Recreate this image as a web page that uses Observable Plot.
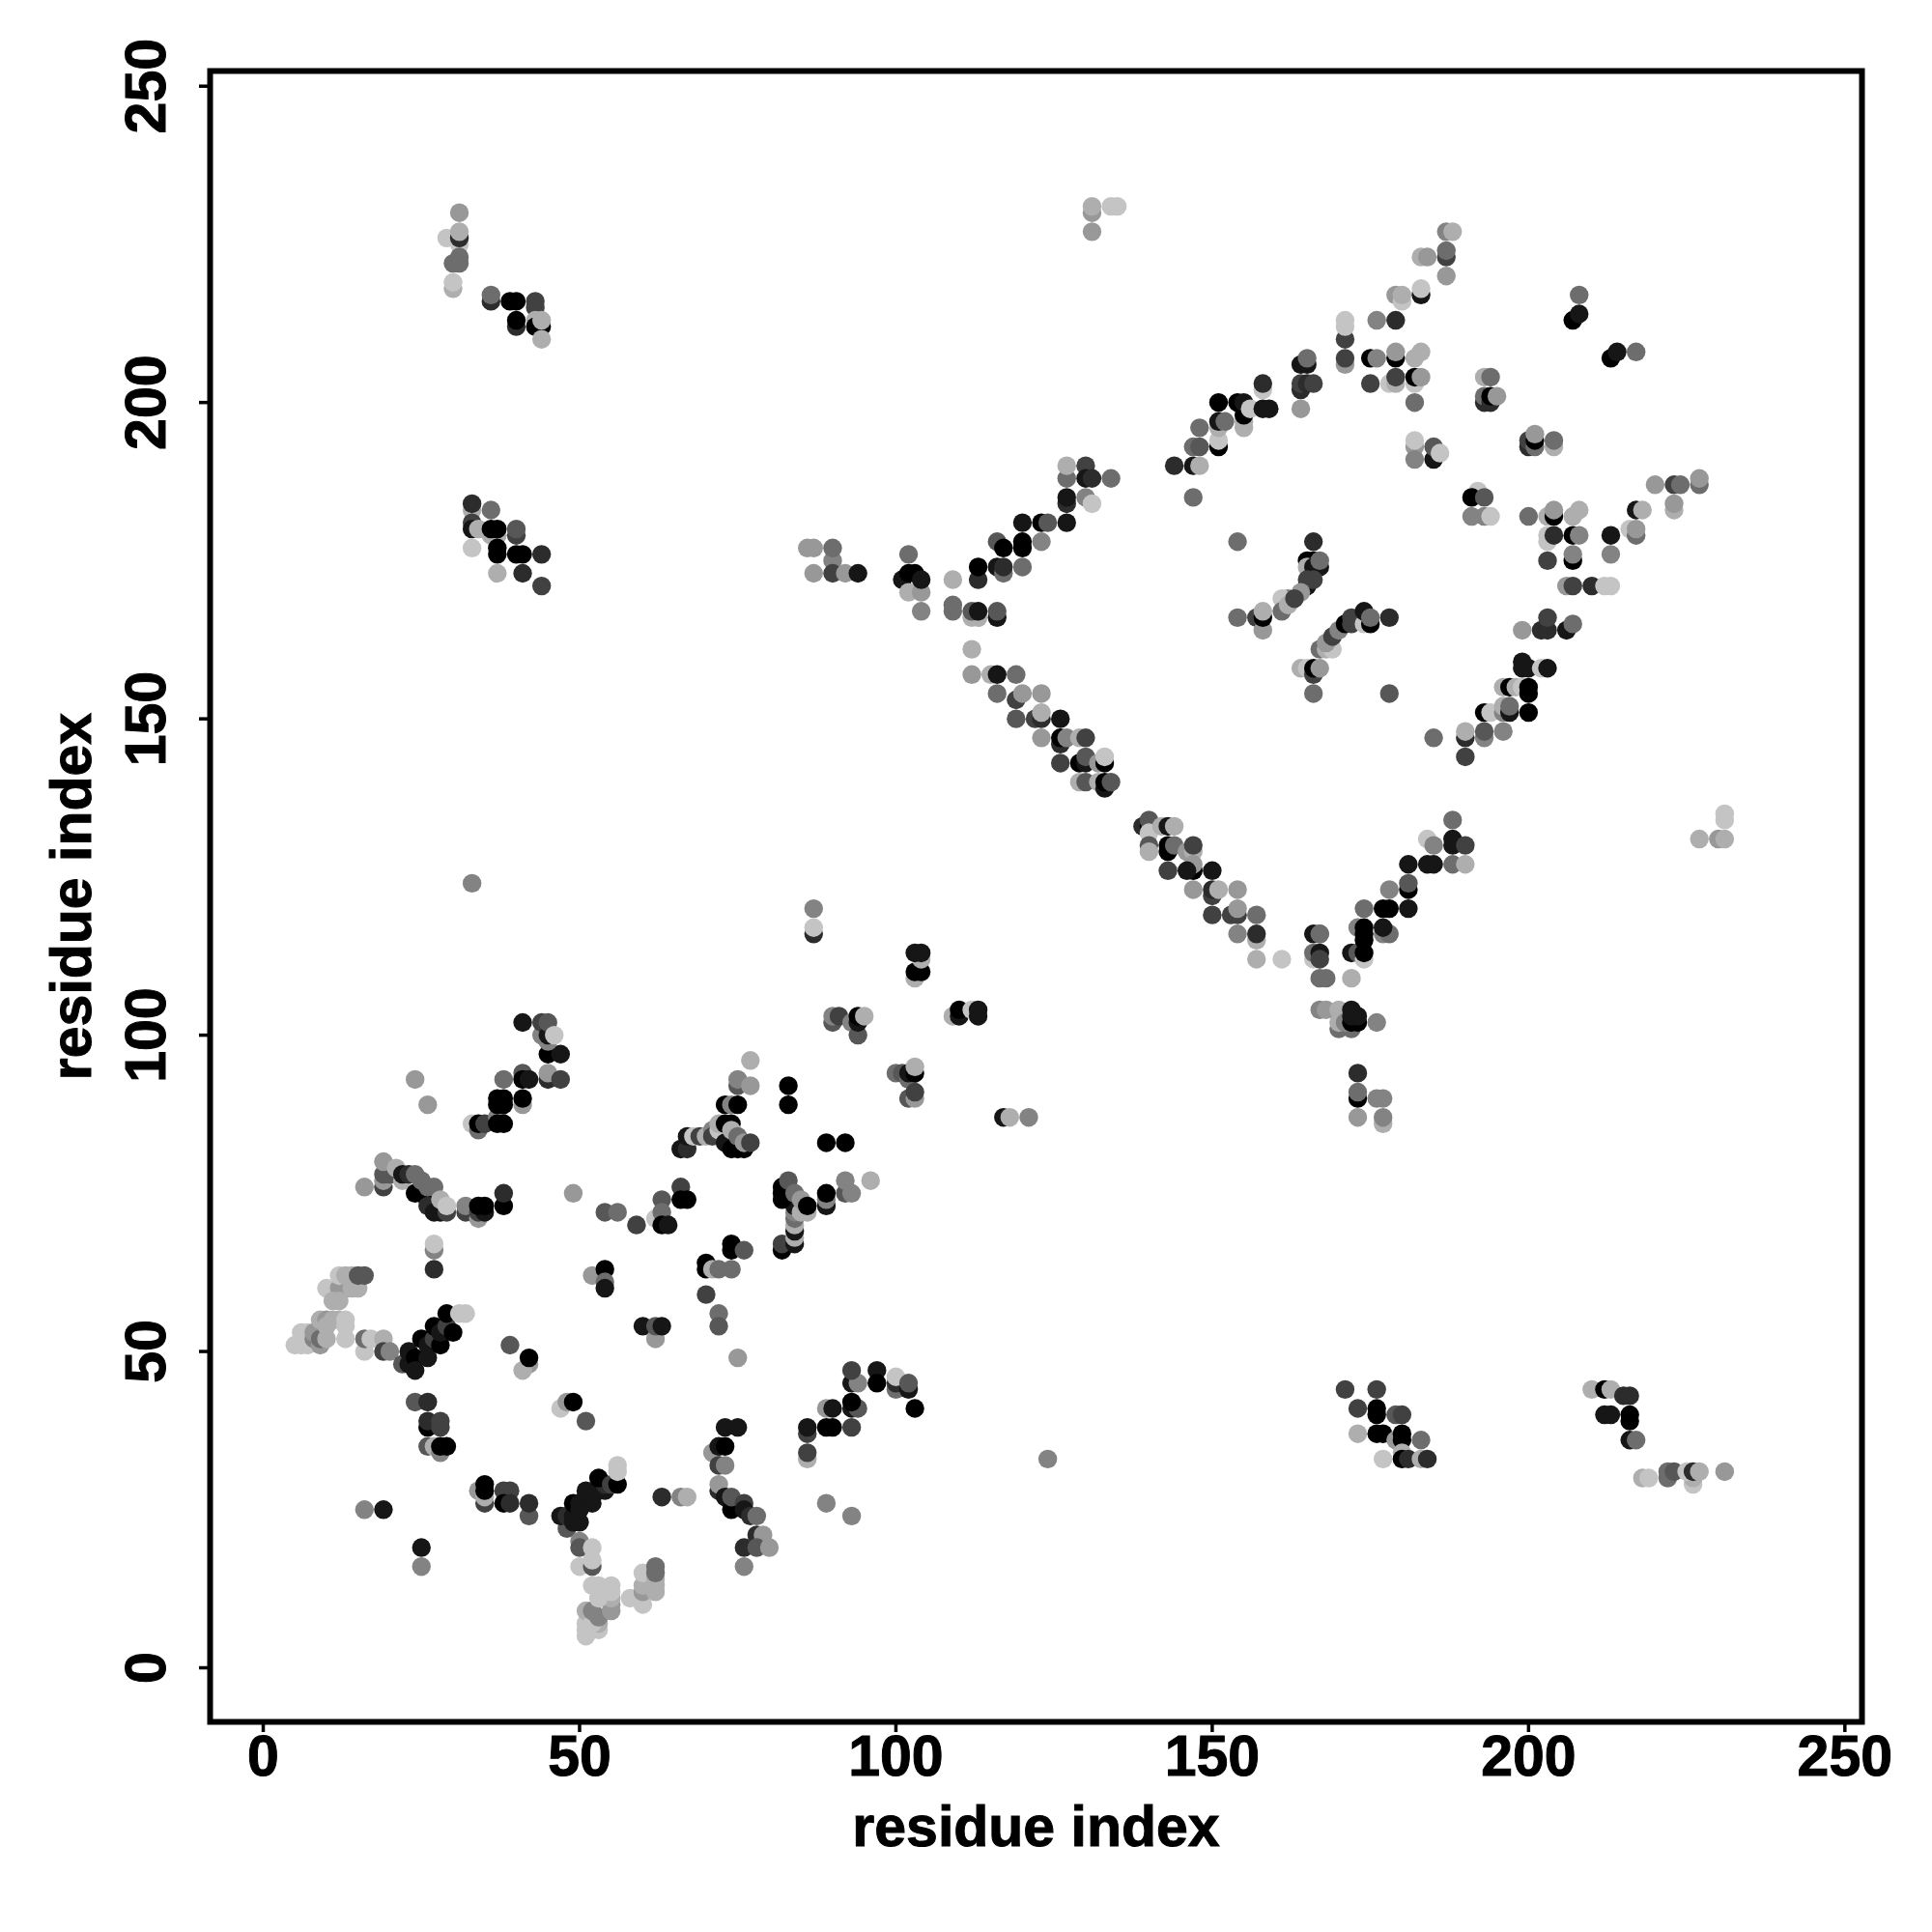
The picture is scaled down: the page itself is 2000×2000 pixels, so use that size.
<!DOCTYPE html>
<html>
<head>
<meta charset="utf-8">
<script src="https://cdn.jsdelivr.net/npm/d3@7"></script>
<script src="https://cdn.jsdelivr.net/npm/@observablehq/plot@0.6"></script>
<style>html,body{margin:0;padding:0;background:#fff} svg text{stroke:#000;stroke-width:1px}</style>
</head>
<body>
<div id="chart"></div>
<script>
// Each contact: [residue i, residue j, shade 0 (black) .. 9 (light grey)]
const tickValues = [0, 50, 100, 150, 200, 250];
const axisTitle = "residue index";

const nTerminalFan = [[5,51,9],[6,51,9],[7,51,9],[6,53,9],[7,53,9],[8,52,6],[9,51,7],[8,53,7],[9,53,7],[9,52,5],[10,52,8],[9,55,8],[10,55,7],[11,55,8],[10,54,8],[12,55,8],[13,55,9],[13,54,9],[13,52,9],[16,50,9],[16,52,5],[17,52,9],[19,52,8],[19,50,3],[20,50,6]];
const nTerminalTop = [[10,60,9],[12,60,7],[13,60,7],[14,60,8],[15,60,8],[12,62,9],[13,62,8],[14,62,8],[15,62,4],[16,62,4],[11,58,8],[12,58,8]];
const blackDiagonalA = [[22,48,4],[23,50,1],[23,48,1],[24,49,0],[24,47,1],[26,49,1],[25,52,0],[26,51,1],[27,52,3],[27,54,0],[28,51,0],[28,53,1],[29,54,3],[29,56,0],[30,53,0],[31,56,9],[32,56,9]];
const cluster25to29 = [[27,66,6],[27,67,9],[27,63,2],[24,42,4],[26,42,2],[26,38,0],[26,39,2],[28,38,3],[28,39,3],[26,35,4],[27,35,8],[28,34,6],[28,35,0],[29,35,0]];
const scatter39to51 = [[39,51,4],[42,48,7],[41,47,8],[42,49,0],[47,41,9],[48,42,7],[49,42,0],[51,39,4]];
const low16to42 = [[16,25,6],[19,25,1],[25,19,1],[25,16,6],[34,28,7],[35,26,3],[35,27,8],[35,28,0],[35,29,0],[38,28,3],[39,28,3],[38,26,0],[39,26,2],[42,24,4],[42,26,2]];
const blackDiagonalB = [[48,22,4],[47,24,1],[48,24,2],[49,24,1],[49,23,1],[50,23,1],[49,26,0],[50,25,1],[50,26,1],[51,27,1],[51,28,1],[52,26,1],[52,27,1],[53,28,1],[54,28,1],[54,29,2],[53,30,0],[55,29,3],[56,29,0],[56,31,9],[56,32,9]];
const lightLoop = [[50,20,6],[50,19,4],[50,16,9],[52,19,9],[52,16,4],[52,17,9],[51,5,9],[51,6,9],[51,7,9],[51,9,8],[53,6,9],[53,7,8],[52,7,9],[53,8,6],[52,9,6],[55,9,7],[55,10,7],[55,11,8],[55,12,9],[55,13,9],[53,11,9],[52,13,9],[53,13,9],[58,11,9],[60,10,9],[60,12,7],[60,13,8],[60,15,9],[62,12,8],[62,13,8],[62,14,8],[62,15,5],[62,16,5]];
const lowMiddle = [[63,27,2],[66,27,6],[67,27,8],[71,34,7],[72,35,1],[73,35,0],[73,38,1],[75,38,1],[72,32,3],[73,32,6],[72,28,2],[72,29,7],[73,27,1],[74,25,0],[74,27,4],[76,26,3],[76,25,1],[77,24,2],[78,24,5],[78,21,2],[79,21,7],[76,19,2],[78,19,4],[80,19,7],[76,16,6],[89,26,6],[93,24,6]];
const lowMiddleRight = [[86,33,8],[86,34,3],[86,37,3],[86,38,1],[89,41,7],[90,41,1],[89,38,0],[90,38,0],[93,38,3],[93,41,1],[94,41,4],[93,42,0],[93,45,1],[94,45,6],[93,47,3],[97,47,1],[97,45,0],[100,44,5],[100,45,2],[100,46,9],[102,44,1],[102,45,4],[103,41,0],[124,33,6]];
const mid52to76 = [[52,62,7],[54,63,0],[54,61,5],[54,60,1],[60,54,1],[62,52,7],[62,54,4],[63,54,1],[54,72,4],[56,72,5],[59,70,3],[62,71,9],[63,74,4],[63,72,5],[63,70,0],[64,70,1],[66,76,3],[66,74,0],[67,74,0],[70,64,0],[70,63,0],[71,63,8],[72,63,5],[74,63,5],[74,67,0],[74,66,0],[76,66,4],[70,59,3],[72,56,5],[72,54,4],[75,49,7]];
const ridge19to38 = [[16,76,7],[19,76,3],[19,77,7],[19,78,4],[20,78,4],[19,80,7],[21,79,8],[22,77,8],[22,78,1],[23,78,2],[24,75,0],[25,75,0],[24,78,5],[25,77,5],[26,74,0],[26,73,2],[26,76,5],[27,76,5],[27,72,1],[28,72,1],[29,72,3],[28,74,8],[29,73,9],[32,72,3],[32,73,6],[34,71,7],[34,72,3],[35,72,1],[34,73,0],[35,73,0],[38,73,0],[38,75,2]];
const ridge33to47 = [[33,124,6],[24,93,7],[26,89,7],[33,86,9],[34,85,5],[34,86,0],[35,86,3],[37,87,6],[37,86,0],[38,86,0],[37,89,0],[37,90,0],[38,90,0],[38,89,0],[41,89,7],[41,90,0],[38,93,5],[41,94,4],[41,93,0],[42,93,1],[45,93,2],[45,94,7],[47,93,3],[45,97,0],[47,97,1],[41,102,1],[44,100,6],[45,99,6],[44,102,3],[45,100,1],[45,102,4],[46,100,9]];
const ridge49to96 = [[49,75,7],[66,82,1],[67,82,2],[67,84,1],[68,84,9],[69,84,3],[70,84,8],[71,85,6],[71,84,3],[72,85,9],[72,86,8],[73,86,0],[74,86,0],[73,83,1],[74,82,0],[75,82,0],[76,82,0],[74,85,8],[75,84,5],[76,83,7],[77,83,3],[73,89,0],[74,89,6],[75,89,0],[75,92,4],[75,93,6],[77,92,7],[77,96,8],[83,92,0],[83,89,0],[89,83,0],[92,83,0]];
const stack82to96 = [[82,66,0],[82,67,3],[84,67,1],[84,68,8],[84,69,1],[84,70,8],[84,71,5],[84,72,6],[84,73,1],[85,72,8],[86,72,8],[82,74,0],[82,75,0],[82,76,0],[83,77,4],[84,75,5],[85,74,7],[86,73,0],[89,73,1],[89,74,6],[89,75,0],[92,75,4],[92,77,6],[93,75,6],[96,77,8]];
const near100 = [[90,102,4],[90,103,6],[91,103,3],[93,102,6],[94,100,4],[94,102,1],[94,103,0],[95,103,8],[100,94,5],[101,94,4],[102,93,5],[102,94,1],[103,94,0],[103,95,8],[102,90,4],[103,90,7],[103,91,3],[87,120,6],[87,116,2],[87,117,9],[103,109,8],[103,110,0],[104,110,0],[104,112,8],[103,113,1],[104,113,1],[109,103,8],[110,103,1],[110,104,0],[112,104,9],[113,103,1],[113,104,1],[117,87,1],[118,87,8],[121,87,6]];
const branch167to178 = [[167,116,5],[166,116,1],[167,116,5],[166,112,9],[166,113,5],[167,113,1],[167,112,3],[167,109,5],[168,109,5],[172,109,8],[167,104,6],[168,104,7],[170,104,8],[170,101,5],[172,101,5],[170,102,8],[171,102,6],[172,104,1],[172,102,0],[173,102,0],[172,103,1],[173,103,1],[176,102,6],[173,94,2],[173,90,0],[173,91,5],[176,90,6],[177,90,6],[173,87,7],[177,86,8],[177,87,6]];
const branch172to190 = [[172,113,1],[173,113,4],[174,112,9],[174,113,0],[173,117,6],[174,117,0],[174,116,0],[174,115,0],[177,116,6],[178,116,5],[177,117,1],[174,120,5],[177,120,0],[178,120,0],[181,120,1],[178,123,6],[181,123,0],[181,124,4],[181,127,1],[184,127,1],[185,127,1],[188,127,5],[190,127,8],[184,131,9],[185,130,6],[188,130,1],[188,131,1],[190,130,3],[188,134,5]];
const lowRight = [[171,44,3],[176,44,3],[173,41,3],[176,41,0],[176,40,0],[179,40,4],[180,40,3],[173,37,8],[176,37,0],[177,37,0],[179,36,7],[180,37,0],[180,36,0],[183,36,5],[177,33,9],[180,34,8],[180,33,0],[181,33,2],[183,33,8],[184,33,2],[210,44,8],[212,44,0],[213,44,8],[215,43,2],[216,43,2],[212,40,1],[213,40,1],[216,40,0],[216,39,0],[216,36,1],[217,36,5],[218,30,8],[219,30,9],[222,30,5],[222,31,5],[223,31,4],[226,29,9],[226,30,8],[225,31,9],[226,31,2],[227,31,8],[231,31,7]];
const farRight = [[227,131,8],[230,131,7],[231,131,8],[231,134,9],[231,135,9]];
const topLeft = [[31,230,7],[29,226,9],[31,225,9],[31,226,2],[31,227,8],[30,222,5],[31,222,5],[31,223,5],[30,218,8],[30,219,9],[36,216,2],[36,217,5],[39,216,0],[40,216,0],[43,215,3],[43,216,3],[40,212,2],[40,213,0],[43,213,8],[43,212,0],[44,212,0],[44,213,8],[44,210,8]];
const midLeft = [[33,183,8],[33,184,2],[36,183,5],[33,181,3],[33,180,1],[34,180,8],[36,179,8],[37,179,8],[36,180,0],[37,180,0],[40,179,3],[40,180,4],[33,177,9],[37,176,0],[37,177,0],[40,176,0],[41,176,0],[44,176,2],[37,173,8],[41,173,2],[44,171,3]];
const topCentre = [[131,227,7],[131,230,7],[131,231,8],[134,231,9],[135,231,9]];
const line86to127 = [[86,177,7],[87,177,7],[87,173,7],[90,175,6],[90,177,5],[90,173,3],[92,173,7],[94,173,1],[102,176,5],[101,172,1],[102,170,8],[104,170,7],[102,173,0],[103,173,0],[104,172,1],[104,167,6],[109,172,8],[109,167,5],[109,168,5],[112,166,8],[113,166,8],[112,167,4],[113,167,1],[116,166,1],[116,167,4],[112,161,8],[112,157,7],[113,172,2],[113,174,0],[116,174,1],[117,173,5],[117,174,2],[120,174,5],[116,178,4],[117,177,0],[120,177,0],[120,178,0],[123,178,6],[120,181,1],[123,181,0],[124,181,4],[127,181,1],[127,184,2],[127,185,1],[130,185,6],[131,184,9],[127,188,5],[127,190,8],[130,190,3],[130,188,1],[131,188,2],[134,188,5]];
const line144to171 = [[144,190,2],[147,190,1],[148,190,8],[147,185,5],[147,193,5],[148,193,4],[148,196,5],[151,193,0],[151,194,9],[151,196,8],[151,197,1],[152,197,5],[151,200,0],[155,196,8],[155,197,8],[155,198,0],[154,200,0],[155,200,1],[156,199,9],[158,199,1],[159,199,1],[158,202,9],[158,203,2],[164,199,7],[164,202,2],[164,203,3],[165,203,2],[166,203,3],[164,206,1],[165,206,1],[165,207,5],[171,206,7],[171,207,3],[171,210,3],[171,212,9],[171,213,9]];
const line175to188 = [[175,207,0],[176,207,6],[179,207,0],[179,208,7],[182,207,8],[183,208,8],[175,203,3],[178,203,9],[179,203,8],[179,204,3],[182,203,9],[182,204,0],[183,204,7],[182,200,5],[176,213,6],[179,213,2],[179,217,7],[180,216,9],[180,217,8],[183,217,1],[183,218,9],[183,223,8],[184,223,7],[187,220,7],[187,223,3],[187,224,5],[187,227,6],[188,227,8]];
const blocks193to217 = [[193,200,2],[193,201,5],[194,200,2],[194,201,0],[195,201,7],[193,204,8],[194,204,5],[208,217,5],[207,213,0],[208,214,1],[213,207,0],[214,208,1],[217,208,5],[200,193,2],[200,194,3],[201,193,5],[201,194,0],[201,195,7],[204,193,8],[204,194,5],[182,193,7],[182,194,9],[182,191,6],[185,191,1],[185,193,4],[186,192,9]];
const square191to231 = [[192,186,9],[191,185,0],[193,185,4],[191,182,6],[193,182,6],[194,182,9],[200,182,5],[203,182,8],[204,182,0],[204,183,7],[207,182,8],[208,183,8],[203,179,9],[203,178,9],[204,179,2],[207,179,0],[208,179,6],[213,179,1],[216,180,9],[217,179,5],[217,180,7],[203,175,3],[207,175,0],[207,176,6],[213,176,6],[206,171,7],[207,171,3],[210,171,2],[212,171,9],[213,171,9],[220,187,7],[223,187,3],[224,187,5],[227,187,5],[227,188,7],[217,183,1],[218,183,8],[223,183,8],[223,184,7]];
const innerHelices = [[154,178,5],[166,178,2],[165,175,0],[166,175,0],[165,174,8],[166,174,1],[167,174,1],[167,175,5],[165,171,1],[165,172,3],[166,172,3],[164,170,7],[162,169,6],[161,169,9],[161,167,5],[162,168,8],[163,169,3],[154,166,5],[157,166,3],[158,164,7],[158,166,0],[158,167,8],[167,161,5],[168,161,8],[169,161,9],[168,162,7],[169,163,3],[170,164,6],[171,165,0],[172,165,3],[172,166,3],[174,165,9],[174,167,1],[175,165,0],[175,166,5],[178,166,2],[164,158,8],[165,158,9],[166,157,3],[166,158,0],[167,158,7],[166,154,5],[178,154,4]];
const lowerDiagonal = [[115,157,8],[116,157,1],[119,157,5],[116,154,5],[119,153,3],[120,154,7],[123,154,7],[119,150,4],[122,150,3],[123,150,2],[123,151,8],[126,150,1],[123,147,7],[126,146,2],[126,147,0],[127,147,6],[129,147,8],[130,147,3],[126,143,3],[129,143,0],[130,143,1],[130,144,4],[132,143,7],[133,143,0],[133,144,9],[129,140,8],[130,140,4],[132,140,8],[133,139,1],[133,140,0],[134,140,4],[139,133,2],[140,133,0],[140,134,4],[140,132,9],[140,130,4],[140,129,8],[142,133,8],[143,133,1],[144,133,8],[143,129,0],[143,130,0],[144,130,5],[143,126,3],[146,129,7],[147,129,8],[147,130,3],[147,126,0],[147,127,7],[146,126,1],[150,126,1],[147,123,7],[150,122,3],[150,123,2],[151,123,8],[154,123,7],[150,119,3],[153,119,3],[154,119,3],[154,120,7],[157,119,5],[154,116,6],[157,115,8],[157,116,2],[157,112,8],[161,112,9]];
const rightArc = [[185,147,5],[190,144,3],[190,147,2],[190,148,8],[193,147,6],[193,148,4],[196,148,6],[193,151,0],[194,151,9],[196,151,6],[196,152,8],[197,151,1],[197,152,5],[200,151,0],[196,155,8],[197,155,0],[198,155,8],[199,155,9],[200,154,0],[200,155,0],[199,158,1],[199,159,1],[200,158,1],[202,158,9],[203,158,1],[199,164,7],[202,164,2],[203,164,2],[203,166,3],[206,164,1],[207,165,5]];

const contacts = [nTerminalFan, nTerminalTop, blackDiagonalA, cluster25to29, scatter39to51, low16to42, blackDiagonalB, lightLoop, lowMiddle, lowMiddleRight, mid52to76, ridge19to38, ridge33to47, ridge49to96, stack82to96, near100, branch167to178, branch172to190, lowRight, farRight, topLeft, midLeft, topCentre, line86to127, line144to171, line175to188, blocks193to217, square191to231, innerHelices, lowerDiagonal, rightArc].flat();

const chart = Plot.plot({
  width: 2000,
  height: 2000,
  marginLeft: 217,
  marginRight: 73,
  marginTop: 73,
  marginBottom: 218,
  x: {domain: [-8.4, 252.7]},
  y: {domain: [-8.55, 252.4]},
  color: {type: "linear", domain: [0, 9], range: ["#000000", "#c4c4c4"]},
  style: {fontFamily: "'Liberation Sans', Arial, sans-serif", fontSize: "59px", fontWeight: "bold", background: "#fff", color: "#000"},
  marks: [
    Plot.dot(contacts, {x: d => d[0], y: d => d[1], fill: d => d[2], r: 9.7, stroke: "none"}),
    Plot.frame({stroke: "#000", strokeWidth: 6}),
    Plot.axisX({ticks: tickValues, tickSize: 11, tickPadding: 3, strokeWidth: 3.5, fontSize: 59, label: axisTitle, labelAnchor: "center", labelOffset: 128, labelArrow: "none", tickFormat: d => String(d)}),
    Plot.axisY({ticks: tickValues, tickSize: 11, tickPadding: 36, tickRotate: -90, strokeWidth: 3.5, fontSize: 59, textAnchor: "middle", label: axisTitle, labelAnchor: "center", labelOffset: 165, labelArrow: "none", tickFormat: d => String(d)})
  ]
});
document.getElementById("chart").appendChild(chart);
</script>
</body>
</html>
